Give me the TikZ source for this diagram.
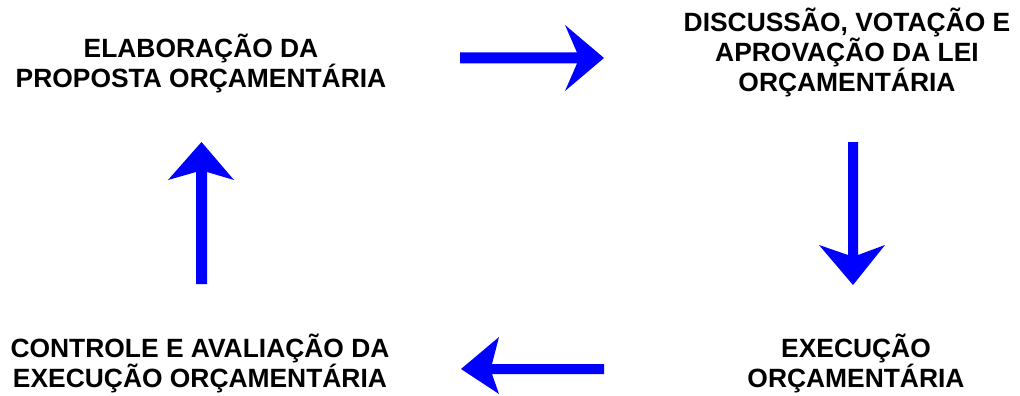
\documentclass[tikz,border=0pt]{standalone}
\usepackage{fontspec}
\setmainfont{Liberation Sans}
\begin{document}
\begin{tikzpicture}[x=1pt,y=-1pt,
  lbl/.style={align=center,inner sep=0pt,anchor=base,font=\fontsize{26.4}{30}\selectfont\bfseries},
  arr/.style={fill={rgb,255:red,0;green,0;blue,255},draw=none}]
\useasboundingbox (0,0) rectangle (1020,396);
\node[lbl] (elab) at (201,88) {ELABORAÇÃO DA\\PROPOSTA ORÇAMENTÁRIA};
\node[lbl] (disc) at (847,92) {DISCUSSÃO, VOTAÇÃO E\\APROVAÇÃO DA LEI\\ORÇAMENTÁRIA};
\node[lbl] (exec) at (856,387) {EXECUÇÃO\\ORÇAMENTÁRIA};
\node[lbl] (ctrl) at (200,387) {CONTROLE E AVALIAÇÃO DA\\EXECUÇÃO ORÇAMENTÁRIA};
% right arrow
\fill[arr] (460,52.5) -- (577,52.5) -- (565,25) -- (604,58) -- (565,91) -- (577,63.5) -- (460,63.5) -- cycle;
% down arrow
\fill[arr] (848,142) -- (858,142) -- (858,255) -- (885,245) -- (853,285) -- (819,245) -- (848,255) -- cycle;
% left arrow
\fill[arr] (604,364) -- (604,374) -- (492,374) -- (499,394) -- (461,369) -- (499,337) -- (492,364) -- cycle;
% up arrow
\fill[arr] (196,284) -- (207,284) -- (207,172) -- (234,180) -- (201.5,142) -- (168,180) -- (196,172) -- cycle;
\end{tikzpicture}
\end{document}
